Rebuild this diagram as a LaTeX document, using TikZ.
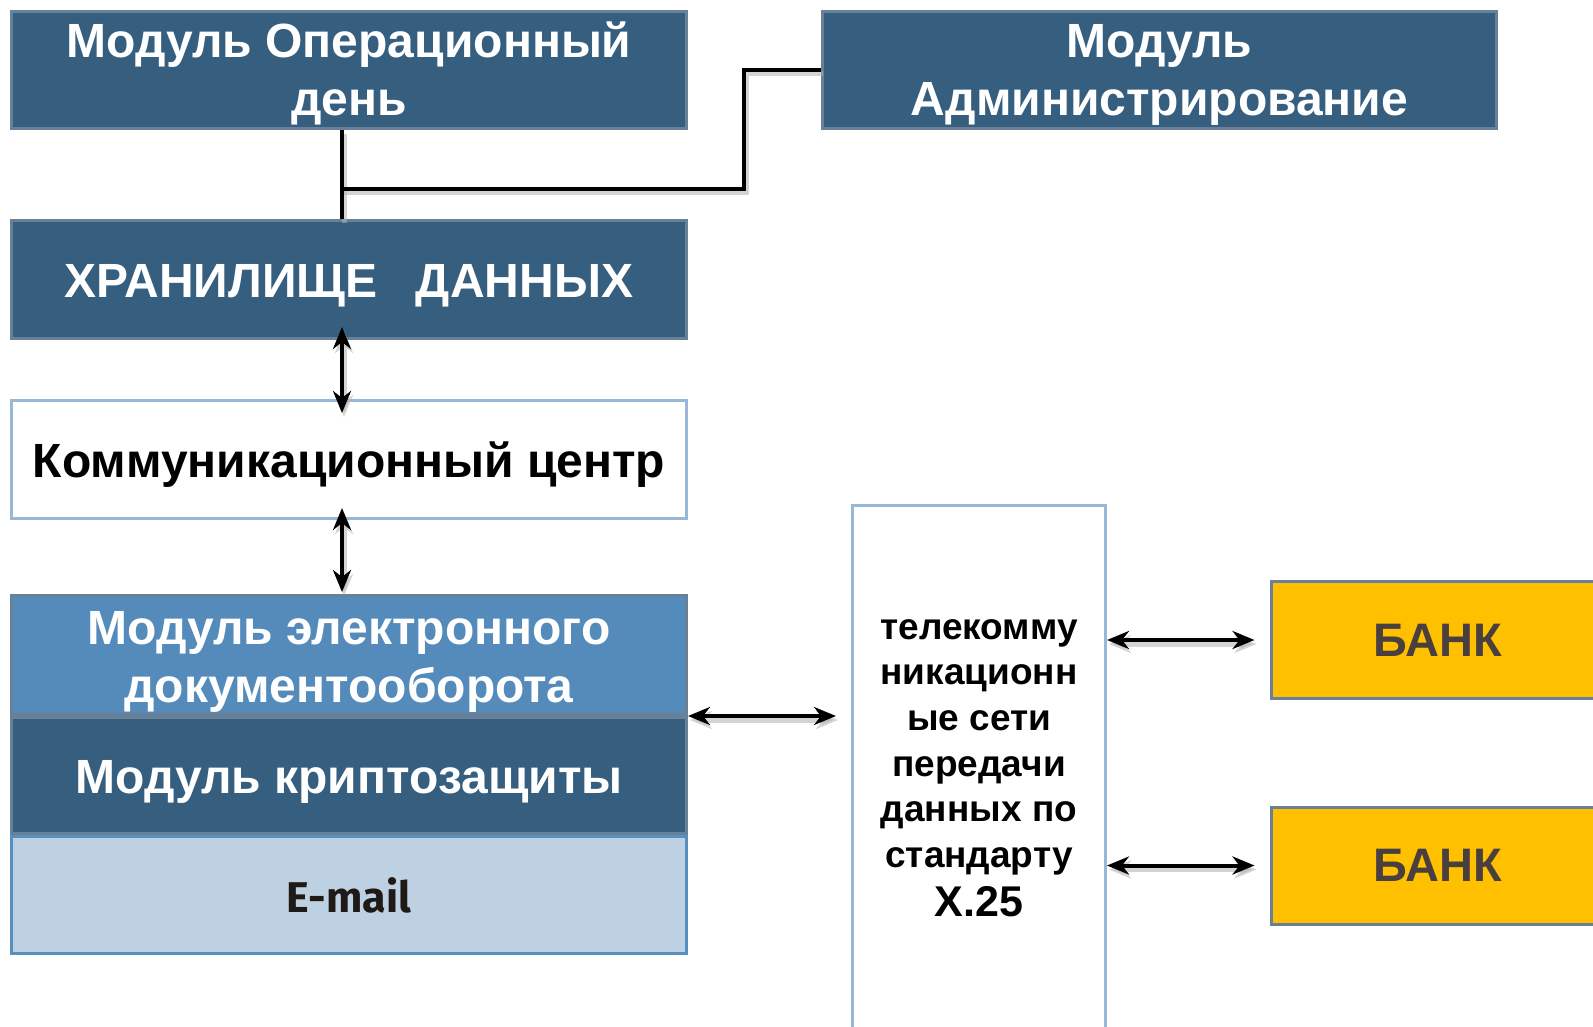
\documentclass[tikz,border=0pt]{standalone}
\usepackage{fontspec}
\setmainfont{Liberation Sans}
\newfontfamily\emailfont{Fira Sans}
\usetikzlibrary{arrows.meta,calc}
\definecolor{darkbl}{RGB}{54,94,127}
\definecolor{darkbd}{RGB}{104,128,152}
\definecolor{midbl}{RGB}{84,139,187}
\definecolor{lightbl}{RGB}{190,209,226}
\definecolor{lightbd}{RGB}{88,143,193}
\definecolor{paleb}{RGB}{152,184,214}
\definecolor{bankfill}{RGB}{255,192,0}
\definecolor{banktext}{RGB}{74,63,63}
\definecolor{emailtext}{RGB}{32,26,22}
\tikzset{
  box/.style={rectangle, draw=darkbd, line width=3pt, fill=darkbl, text=white,
    minimum width=675pt, inner sep=0pt, align=center,
    font=\bfseries\fontsize{48}{58}\selectfont},
  oneline/.style={text height=46pt, text depth=10pt},
  twoline/.style={text height=101pt, text depth=10pt},
  wbox/.style={box, fill=white, draw=paleb, text=black},
  bankbox/.style={rectangle, draw=darkbd, line width=3pt, fill=bankfill, text=banktext,
    minimum width=333pt, minimum height=117pt, inner sep=0pt,
    font=\bfseries\fontsize{47}{50}\selectfont},
  conn/.style={line width=4pt, black,
    preaction={draw=black!30, opacity=0.55, line width=5pt,
      transform canvas={shift={(2pt,-4pt)}}}},
  tip/.style={Stealth[length=22pt,width=18pt,inset=7pt]},
  dbl/.style={conn, {Stealth[length=22pt,width=18pt,inset=7pt]}-{Stealth[length=22pt,width=18pt,inset=7pt]}},
}
\begin{document}
\begin{tikzpicture}[x=1pt,y=-1pt]
\useasboundingbox (0,0) rectangle (1593,1027);
\clip (0,0) rectangle (1593,1027);
\fill[white] (0,0) rectangle (1593,1027);

% nodes
\node[box, twoline, minimum height=117pt] (op) at (349,70) {Модуль Операционный\\день};
\node[box, twoline, minimum width=674pt, minimum height=117pt] (adm) at (1159.5,70) {Модуль\\Администрирование};
\node[box, oneline, minimum height=118pt] (store) at (349,279.5) {ХРАНИЛИЩЕ\hspace{0.8em}ДАННЫХ};
\node[wbox, oneline, minimum height=118pt] (comm) at (349,459.5) {Коммуникационный центр};
\node[box, text height=104pt, text depth=10pt, fill=midbl, minimum height=119pt] (edo) at (349,655) {Модуль электронного\\документооборота};
\node[box, oneline, minimum height=116pt] (crypto) at (349,775.5) {Модуль криптозащиты};
\node[box, fill=lightbl, draw=lightbd, text=emailtext, minimum height=117pt,
  font=\emailfont\bfseries\fontsize{43}{48}\selectfont] (email) at (349,895) {E-mail};
\node[rectangle, draw=paleb, line width=3pt, fill=white, minimum width=253pt,
  minimum height=525pt, inner sep=0pt, align=center,
  font=\bfseries\fontsize{37}{45.7}\selectfont] (tele) at (979,768)
  {телекомму\\никационн\\ые сети\\передачи\\данных по\\стандарту\\[3pt]{\fontsize{43}{45.7}\selectfont X.25}};
\node[bankbox] (bank1) at (1437.5,640) {БАНК};
\node[bankbox] (bank2) at (1437.5,865.5) {БАНК};

% connectors
\coordinate (j) at (342,189);
\coordinate (k) at (744,189);
\coordinate (m) at (744,70);
\draw[conn] (op.south -| j) -- (store.north -| j);
\draw[conn] (j) -- (k) -- (m) -- (m -| adm.west);

\draw[dbl] ([yshift=13pt]store.south -| j) -- ([yshift=-14pt]comm.north -| j);
\draw[dbl] ([yshift=12pt]comm.south -| j) -- ([yshift=2pt]edo.north -| j);
\draw[dbl] (edo.south east) -- ([xshift=-15pt]tele.west |- edo.south);
\draw[dbl] (tele.east |- bank1) -- ([xshift=-15pt]bank1.west);
\draw[dbl] (tele.east |- bank2) -- ([xshift=-15pt]bank2.west);
\end{tikzpicture}
\end{document}
